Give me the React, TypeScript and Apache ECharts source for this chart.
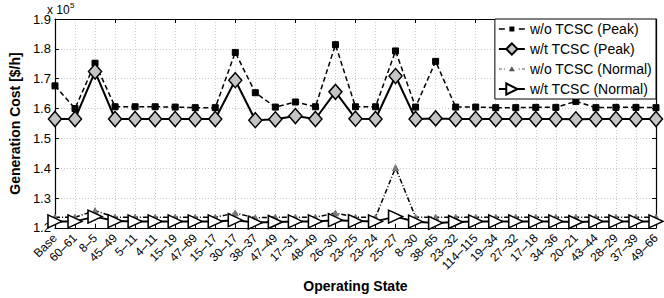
import React, { useEffect, useRef } from "react";
import * as echarts from "echarts";

const categories = [
  "Base", "60–61", "8–5", "45–49", "5–11", "4–11", "15–19", "47–69", "15–17", "30–17",
  "38–37", "47–49", "17–31", "48–49", "26–30", "23–25", "23–24", "25–27", "8–30", "38–65",
  "23–32", "114–115", "19–34", "27–32", "17–18", "34–36", "20–21", "43–44", "28–29", "37–39", "49–66",
];

// values in $/h
const peakWithout = [
  167600, 160000, 175200, 160600, 160600, 160600, 160500, 160300, 160300, 178800,
  165300, 160500, 162200, 160600, 181400, 160600, 160600, 179300, 160500, 175800,
  160500, 160500, 160300, 160300, 160400, 160400, 162400, 160300, 160400, 160400, 160300,
];
const peakWith = [
  156500, 156500, 172400, 156500, 156500, 156500, 156500, 156500, 156500, 169500,
  156100, 156400, 157500, 156500, 165600, 156600, 156500, 170900, 156500, 156700,
  156500, 156500, 156500, 156500, 156500, 156500, 156400, 156500, 156500, 156500, 156500,
];
const normalWithout = [
  123600, 123600, 125800, 123600, 123600, 123600, 123600, 123600, 123600, 125000,
  123400, 123600, 123600, 123600, 125000, 123600, 123600, 140200, 123600, 123600,
  123600, 123600, 123600, 123600, 123600, 123600, 123600, 123600, 123600, 123600, 123600,
];
const normalWith = [
  122200, 122200, 123800, 122300, 122200, 122200, 122200, 122200, 122200, 122600,
  121800, 122000, 122200, 122200, 122600, 122300, 122200, 123800, 122100, 121700,
  122000, 122200, 122200, 122200, 122200, 122200, 122000, 122200, 122200, 122200, 122200,
];

const seriesNames = ["w/o TCSC (Peak)", "w/t TCSC (Peak)", "w/o TCSC (Normal)", "w/t TCSC (Normal)"];
const yMin = 120000;
const yMax = 190000;
const yStep = 10000;

const FONT = "'Liberation Sans', Arial, Helvetica, sans-serif";

// legend icons (26 x 14 box); tiny corner specks keep the box size
const CORNERS = "M0 0L0.01 0L0.01 0.01Z M26 14L25.99 14L25.99 13.99Z ";
const ICON_DASH_SQUARE =
  "path://" + CORNERS + "M0 6.2H6V7.8H0Z M10.5 4.5H15.5V9.5H10.5Z M20 6.2H26V7.8H20Z";
const ICON_DOT_TRIANGLE =
  "path://" + CORNERS + "M0 6.5H3V7.5H0Z M5 6.5H6.2V7.5H5Z M10 9.3L13 4.2L16 9.3Z M19.8 6.5H21V7.5H19.8Z M23 6.5H26V7.5H23Z";

export default function App() {
  const ref = useRef<HTMLDivElement>(null);
  useEffect(() => {
    document.body.style.margin = "0";
    const chart = echarts.init(ref.current!, null, { renderer: "svg" });
    const splitStyle = { show: true, lineStyle: { color: "#c8c8c8", type: [1, 2] as any, width: 1 } };
    const axisLine = { show: true, lineStyle: { color: "#000", width: 1.2 } };
    chart.setOption({
      animation: false,
      textStyle: { fontFamily: FONT, color: "#000" },
      grid: { left: 44, right: 8, top: 19, bottom: 65, containLabel: false },
      xAxis: [
        {
          type: "category",
          data: categories,
          boundaryGap: false,
          axisLine,
          axisTick: { show: true, inside: true, length: 4, alignWithLabel: true, lineStyle: { color: "#000" } },
          axisLabel: { interval: 0, rotate: 45, fontSize: 12, color: "#000", margin: 8, fontFamily: FONT },
          splitLine: splitStyle,
          name: "Operating State",
          nameLocation: "middle",
          nameGap: 46,
          nameTextStyle: { fontSize: 14, fontWeight: "bold", color: "#000", fontFamily: FONT },
        },
        {
          type: "category",
          data: categories,
          boundaryGap: false,
          position: "top",
          axisLine,
          axisTick: { show: true, inside: true, length: 4, lineStyle: { color: "#000" } },
          axisLabel: { show: false },
          splitLine: { show: false },
        },
      ],
      yAxis: [
        {
          type: "value",
          min: yMin,
          max: yMax,
          interval: yStep,
          axisLine,
          axisTick: { show: true, inside: true, length: 4, lineStyle: { color: "#000" } },
          axisLabel: {
            fontSize: 13,
            color: "#000",
            margin: 4,
            fontFamily: FONT,
            formatter: (v: number) => (v / 100000).toFixed(1),
          },
          splitLine: splitStyle,
          name: "Generation Cost [$/h]",
          nameLocation: "middle",
          nameGap: 24,
          nameTextStyle: { fontSize: 14, fontWeight: "bold", color: "#000", fontFamily: FONT },
        },
        {
          type: "value",
          min: yMin,
          max: yMax,
          interval: yStep,
          position: "right",
          axisLine,
          axisTick: { show: true, inside: true, length: 4, lineStyle: { color: "#000" } },
          axisLabel: { show: false },
          splitLine: { show: false },
        },
      ],
      legend: {
        orient: "vertical",
        right: 8,
        top: 19,
        backgroundColor: "#fff",
        borderColor: "#000",
        borderWidth: 1,
        borderRadius: 0,
        padding: [3, 4, 3, 3],
        itemGap: 6,
        itemWidth: 26,
        itemHeight: 14,
        textStyle: { fontSize: 14, color: "#000", fontFamily: FONT },
        data: [
          { name: seriesNames[0], icon: ICON_DASH_SQUARE, itemStyle: { color: "#000", borderWidth: 0 } },
          { name: seriesNames[1] },
          { name: seriesNames[2], icon: ICON_DOT_TRIANGLE, itemStyle: { color: "#555", borderWidth: 0 } },
          { name: seriesNames[3] },
        ],
      },
      graphic: [
        { type: "text", left: 47, top: 4, style: { text: "x 10", fontSize: 12, fill: "#000", fontFamily: FONT } },
        { type: "text", left: 70, top: 1, style: { text: "5", fontSize: 8, fill: "#000", fontFamily: FONT } },
      ],
      series: [
        {
          name: seriesNames[0],
          type: "line",
          data: peakWithout,
          symbol: "rect",
          symbolSize: 6,
          lineStyle: { color: "#000", width: 1.5, type: [5, 3] },
          itemStyle: { color: "#000", borderColor: "#000" },
          z: 3,
        },
        {
          name: seriesNames[1],
          type: "line",
          data: peakWith,
          symbol: "diamond",
          symbolSize: [13, 15],
          lineStyle: { color: "#000", width: 2 },
          itemStyle: { color: "#c4c4c4", borderColor: "#000", borderWidth: 1.5 },
          z: 4,
        },
        {
          name: seriesNames[2],
          type: "line",
          data: normalWithout,
          symbol: "triangle",
          symbolSize: 6,
          lineStyle: { color: "#000", width: 1.5, type: [5, 2, 1, 2] },
          itemStyle: { color: "#777", borderColor: "#777" },
          z: 3,
        },
        {
          name: seriesNames[3],
          type: "line",
          data: normalWith,
          symbol: "triangle",
          symbolRotate: -90,
          symbolSize: [13, 14],
          lineStyle: { color: "#000", width: 2 },
          itemStyle: { color: "#fff", borderColor: "#000", borderWidth: 1.5 },
          z: 4,
        },
      ],
    });
    return () => chart.dispose();
  }, []);
  return <div ref={ref} style={{ width: 664, height: 298 }} />;
}
